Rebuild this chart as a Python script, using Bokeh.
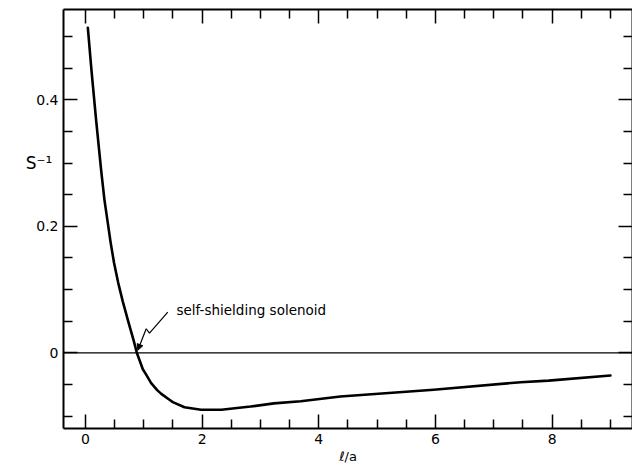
from bokeh.plotting import figure
from bokeh.models import (FixedTicker, LinearAxis, Span, Label, Arrow,
                          NormalHead, Range1d, ColumnDataSource)
from bokeh.embed import file_html
from bokeh.resources import INLINE

# ---- data ----
x_vals = [0.04, 0.103, 0.183, 0.269, 0.326, 0.383, 0.43, 0.49, 0.56, 0.64,
          0.735, 0.83, 0.88, 0.983, 1.03, 1.126, 1.229, 1.30, 1.457, 1.497,
          1.697, 1.98, 2.33, 2.83, 3.23, 3.69, 4.37, 5.97, 7.46, 7.94, 9.0]
s_vals = [0.514, 0.446, 0.367, 0.288, 0.241, 0.205, 0.175, 0.142, 0.111,
          0.081, 0.049, 0.018, 0.0, -0.026, -0.033, -0.048, -0.059, -0.065,
          -0.0754, -0.078, -0.086, -0.090, -0.090, -0.085, -0.080, -0.0765,
          -0.069, -0.0585, -0.0465, -0.044, -0.036]

x_ticks = [0, 2, 4, 6, 8]
x_minor = [0.5, 1, 1.5, 2.5, 3, 3.5, 4.5, 5, 5.5, 6.5, 7, 7.5, 8.5, 9]
y_ticks = [0, 0.2, 0.4]
y_tick_labels = ["0", "0.2", "0.4"]
y_minor = [-0.1, -0.05, 0.05, 0.1, 0.15, 0.25, 0.3, 0.35, 0.45, 0.5]

x_title = "ℓ/a"
y_title = "S⁻¹"
note_text = "self-shielding solenoid"
note_pos = (1.56, 0.068)
arrow_x = [1.411, 1.097, 1.041]
arrow_y = [0.0642, 0.031, 0.038]
arrow_tip = (0.897, 0.004)

FONT = "DejaVu Sans"

p = figure(width=632, height=467,
           x_range=Range1d(-0.377, 9.378), y_range=Range1d(-0.1197, 0.5428),
           output_backend="svg", toolbar_location=None,
           min_border_left=63, min_border_right=0, min_border_top=9,
           min_border_bottom=39)
p.grid.visible = False
p.outline_line_color = None
p.background_fill_color = "white"
p.border_fill_color = "white"


def style_axis(ax, labels=True):
    ax.axis_line_color = "black"
    ax.axis_line_width = 2
    ax.major_tick_line_color = "black"
    ax.minor_tick_line_color = "black"
    ax.major_tick_line_width = 1.5
    ax.minor_tick_line_width = 1.5
    ax.major_tick_in = 14
    ax.major_tick_out = 0
    ax.minor_tick_in = 9
    ax.minor_tick_out = 0
    if labels:
        ax.major_label_text_font = FONT
        ax.major_label_text_font_size = "14px"
        ax.major_label_text_color = "black"
        ax.major_label_standoff = 5
        ax.axis_label_text_font = FONT
        ax.axis_label_text_font_style = "normal"
        ax.axis_label_text_color = "black"
    else:
        ax.major_label_text_font_size = "0px"
        ax.major_label_text_color = None
        ax.major_label_standoff = 0


xa = p.xaxis[0]
xa.ticker = FixedTicker(ticks=x_ticks, minor_ticks=x_minor)
style_axis(xa)
xa.axis_label = x_title
xa.axis_label_text_font_size = "13px"
xa.axis_label_standoff = 2

ya = p.yaxis[0]
ya.ticker = FixedTicker(ticks=y_ticks, minor_ticks=y_minor)
style_axis(ya)
ya.major_label_overrides = {t: lab for t, lab in zip(y_ticks, y_tick_labels)}
# the reference puts S^-1 level with y = 0.3, above the middle of the axis:
# trailing empty lines lift the first line of the label to that height
ya.axis_label = y_title + "\n" * 5
ya.axis_label_orientation = "horizontal"
ya.axis_label_text_font_size = "17px"
ya.axis_label_text_line_height = 1.12
ya.axis_label_standoff = -19

top = LinearAxis(ticker=FixedTicker(ticks=x_ticks, minor_ticks=x_minor))
style_axis(top, labels=False)
p.add_layout(top, "above")
right = LinearAxis(ticker=FixedTicker(ticks=y_ticks, minor_ticks=y_minor))
style_axis(right, labels=False)
p.add_layout(right, "right")

p.add_layout(Span(location=0, dimension="width", line_color="black",
                  line_width=1.3))

src = ColumnDataSource(dict(x=x_vals, s=s_vals))
p.line("x", "s", source=src, line_color="black", line_width=2.6,
       line_join="round", line_cap="round")

# annotation pointer
p.line(arrow_x, arrow_y, line_color="black", line_width=1.2)
p.add_layout(Arrow(end=NormalHead(size=6, fill_color="black",
                                  line_color="black", line_width=1),
                   x_start=arrow_x[-1], y_start=arrow_y[-1],
                   x_end=arrow_tip[0], y_end=arrow_tip[1],
                   line_color="black", line_width=1.2))

p.add_layout(Label(x=note_pos[0], y=note_pos[1], text=note_text,
                   text_font=FONT, text_font_size="13.5px",
                   text_color="black", text_baseline="alphabetic"))

open("out.html", "w").write(file_html(p, INLINE))
